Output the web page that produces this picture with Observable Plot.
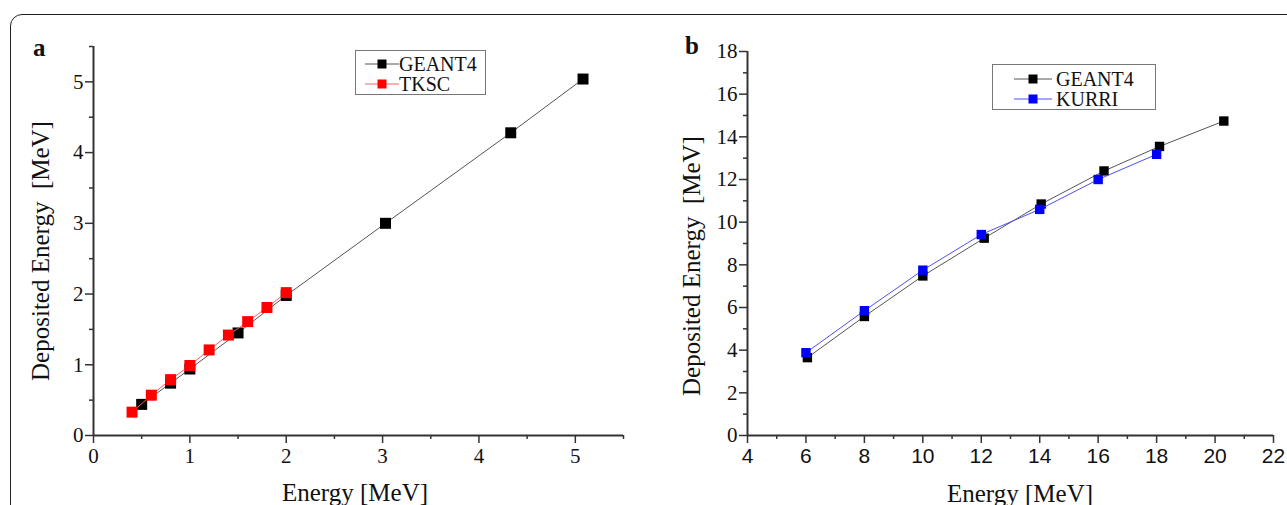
<!DOCTYPE html>
<html><head><meta charset="utf-8">
<script src="https://cdn.jsdelivr.net/npm/d3@7"></script>
<script src="https://cdn.jsdelivr.net/npm/@observablehq/plot@0.6"></script>
<style>
body{margin:0;background:#fff;width:1287px;height:505px;overflow:hidden;position:relative;font-family:"Liberation Serif","Times New Roman",serif;color:#111;}
#frame{position:absolute;left:10px;top:14px;width:1320px;height:540px;border:1.5px solid #222;border-radius:12px;box-sizing:border-box;}
.panel{position:absolute;top:0;}
.panel svg text{font-family:"Liberation Serif","Times New Roman",serif !important;font-size:21px !important;fill:#111;}
#pb svg g[aria-label="x-axis tick label"] text{font-family:"Liberation Sans Narrow","Arial Narrow","Liberation Sans",sans-serif !important;font-size:21px !important;}
.lbl{position:absolute;white-space:nowrap;font-size:25px;line-height:1;}
.tag{position:absolute;font-weight:bold;font-size:25px;line-height:1;}
.legend{position:absolute;border:1.2px solid #777;background:#fff;box-sizing:border-box;font-size:20px;line-height:19px;}
.legend .row{position:absolute;left:0;display:flex;align-items:center;white-space:nowrap;line-height:19px;}
</style></head><body>
<div id="frame"></div>
<div class="panel" id="pa" style="left:0"></div>
<div class="panel" id="pb" style="left:640px"></div>
<script>
// ---- Panel a data ----
const geantA_x = [0.5, 0.8, 1.0, 1.5, 2.0, 3.03, 4.33, 5.08];
const geantA_y = [0.44, 0.74, 0.94, 1.45, 1.98, 3.0, 4.28, 5.04];
const tkscA_x = [0.4, 0.6, 0.8, 1.0, 1.2, 1.4, 1.6, 1.8, 2.0];
const tkscA_y = [0.33, 0.57, 0.79, 0.99, 1.21, 1.42, 1.61, 1.81, 2.02];
const ticksA_major = [0, 1, 2, 3, 4, 5];
const ticksA_minor = [0.5, 1.5, 2.5, 3.5, 4.5, 5.5];
// ---- Panel b data ----
const geantB_x = [6.05, 8.0, 10.0, 12.1, 14.05, 16.2, 18.1, 20.3];
const geantB_y = [3.65, 5.58, 7.48, 9.25, 10.85, 12.4, 13.55, 14.74];
const kurriB_x = [6.0, 8.0, 10.0, 12.0, 14.0, 16.0, 18.0];
const kurriB_y = [3.88, 5.85, 7.75, 9.42, 10.6, 12.0, 13.18];
const ticksBx_major = [4, 6, 8, 10, 12, 14, 16, 18, 20, 22];
const ticksBx_minor = [5, 7, 9, 11, 13, 15, 17, 19, 21];
const ticksBy_major = [0, 2, 4, 6, 8, 10, 12, 14, 16, 18];
const ticksBy_minor = [1, 3, 5, 7, 9, 11, 13, 15, 17];
const labels = {x: "Energy [MeV]", y: "Deposited Energy\u00a0\u00a0[MeV]"};
const seriesA = ["GEANT4", "TKSC"];
const seriesB = ["GEANT4", "KURRI"];
const colors = {GEANT4: "#000000", TKSC: "#ff0000", KURRI: "#0000ff"};
const lineColors = {GEANT4: "#555555", TKSC: "#f06060", KURRI: "#5050f0"};

const zip = (xs, ys) => xs.map((x, i) => ({x, y: ys[i]}));
const AX = "#333";
const fmt = d => String(d);

function axes(xMaj, xMin, yMaj, yMin, x0) {
  return [
    Plot.axisX({ticks: xMin, tickSize: 4, tickFormat: () => "", label: null, stroke: AX, strokeWidth: 1.5}),
    Plot.axisX({ticks: xMaj, tickSize: 8, tickPadding: 5, tickFormat: fmt, label: null, stroke: AX, strokeWidth: 1.5}),
    Plot.axisY({ticks: yMin, tickSize: 4, tickFormat: () => "", label: null, stroke: AX, strokeWidth: 1.5}),
    Plot.axisY({ticks: yMaj, tickSize: 8, tickPadding: 2, tickFormat: fmt, label: null, stroke: AX, strokeWidth: 1.5}),
    Plot.ruleY([0], {stroke: AX, strokeWidth: 2}),
    Plot.ruleX([x0], {stroke: AX, strokeWidth: 2})
  ];
}

const dA_g = zip(geantA_x, geantA_y), dA_t = zip(tkscA_x, tkscA_y);
const A = Plot.plot({
  width: 640, height: 505, marginLeft: 93, marginRight: 17, marginTop: 46, marginBottom: 70,
  x: {domain: [0, 5.5]}, y: {domain: [0, 5.5]},
  style: {background: "transparent", overflow: "visible"},
  marks: [
    ...axes(ticksA_major, ticksA_minor, ticksA_major, ticksA_minor, 0),
    Plot.line(dA_g, {x: "x", y: "y", stroke: lineColors.GEANT4, strokeWidth: 1}),
    Plot.dot(dA_g, {x: "x", y: "y", symbol: "square", r: 6.2, fill: colors.GEANT4, stroke: "none"}),
    Plot.line(dA_t, {x: "x", y: "y", stroke: lineColors.TKSC, strokeWidth: 1}),
    Plot.dot(dA_t, {x: "x", y: "y", symbol: "square", r: 6.2, fill: colors.TKSC, stroke: "none"})
  ]
});
document.getElementById("pa").appendChild(A);

const dB_g = zip(geantB_x, geantB_y), dB_k = zip(kurriB_x, kurriB_y);
const B = Plot.plot({
  width: 647, height: 505, marginLeft: 107, marginRight: 14, marginTop: 51, marginBottom: 70,
  x: {domain: [4, 22]}, y: {domain: [0, 18]},
  style: {background: "transparent", overflow: "visible"},
  marks: [
    ...axes(ticksBx_major, ticksBx_minor, ticksBy_major, ticksBy_minor, 4),
    Plot.line(dB_g, {x: "x", y: "y", stroke: lineColors.GEANT4, strokeWidth: 1}),
    Plot.dot(dB_g, {x: "x", y: "y", symbol: "square", r: 5.3, fill: colors.GEANT4, stroke: "none"}),
    Plot.line(dB_k, {x: "x", y: "y", stroke: lineColors.KURRI, strokeWidth: 1}),
    Plot.dot(dB_k, {x: "x", y: "y", symbol: "square", r: 5.3, fill: colors.KURRI, stroke: "none"})
  ]
});
document.getElementById("pb").appendChild(B);

// ---- HTML text: tags, axis labels, legends ----
function addDiv(cls, text, style) {
  const d = document.createElement("div");
  d.className = cls; d.textContent = text;
  Object.assign(d.style, style);
  document.body.appendChild(d);
  return d;
}
addDiv("tag", "a", {left: "33px", top: "35px"});
addDiv("tag", "b", {left: "685px", top: "33px"});
addDiv("lbl", labels.x, {left: "355px", top: "480px", transform: "translateX(-50%)"});
addDiv("lbl", labels.x, {left: "1020px", top: "481px", transform: "translateX(-50%)"});
addDiv("lbl", labels.y, {left: "40px", top: "251px", transform: "translate(-50%,-50%) rotate(-90deg)"});
addDiv("lbl", labels.y, {left: "691px", top: "266px", transform: "translate(-50%,-50%) rotate(-90deg)"});

function legend(series, box, sw) {
  const L = document.createElement("div");
  L.className = "legend";
  Object.assign(L.style, {left: box.x + "px", top: box.y + "px", width: box.w + "px", height: box.h + "px"});
  series.forEach((s, i) => {
    const r = document.createElement("div");
    r.className = "row";
    r.style.top = (box.rowTop + i * box.rowH) + "px";
    r.style.left = box.padL + "px";
    r.style.height = box.rowH + "px";
    r.innerHTML = `<svg width="${sw.w}" height="12" style="margin-right:${sw.gap}px"><line x1="0" y1="6" x2="${sw.w}" y2="6" stroke="${lineColors[s]}" stroke-width="1"/><rect x="${sw.w/2-4.5}" y="1.5" width="9" height="9" fill="${colors[s]}"/></svg><span>${s}</span>`;
    L.appendChild(r);
  });
  document.body.appendChild(L);
}
legend(seriesA, {x: 355, y: 50, w: 131, h: 45, padL: 9, rowTop: 3, rowH: 20}, {w: 34, gap: 0});
legend(seriesB, {x: 992, y: 64, w: 164, h: 46, padL: 21, rowTop: 4, rowH: 20}, {w: 38, gap: 4});
</script>
</body></html>
